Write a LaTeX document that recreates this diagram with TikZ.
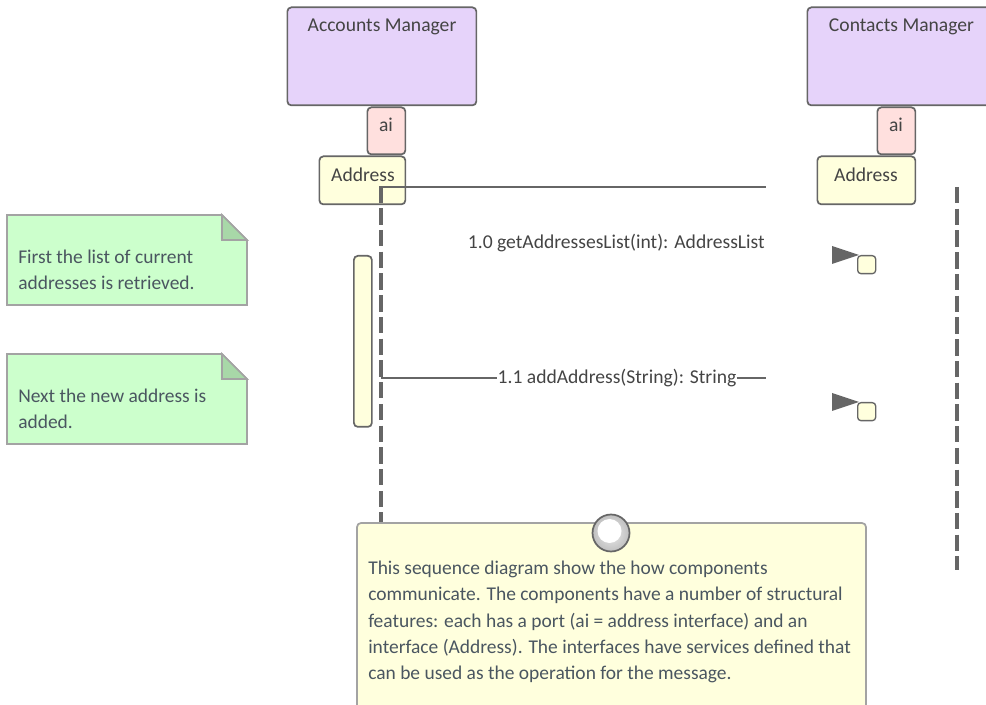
\documentclass[tikz,border=0pt]{standalone}
\usepackage{fontspec}
\setmainfont{Carlito}
\usetikzlibrary{calc,shadings}
\definecolor{edge}{HTML}{666666}
\definecolor{txt}{HTML}{444444}
\definecolor{notetxt}{HTML}{4A5660}
\definecolor{notedge}{HTML}{A3A3A3}
\definecolor{compfill}{HTML}{E6D3FA}
\definecolor{portfill}{HTML}{FFE0DE}
\definecolor{ifacefill}{HTML}{FFFFDD}
\definecolor{greenfill}{HTML}{CCFFCC}
\definecolor{folddark}{HTML}{A8D8A8}
\tikzset{
 x=0.75pt,y=-0.75pt,
 boxbase/.style={draw=edge,line width=1.3pt,rounded corners=3pt,inner sep=0,anchor=north west},
 comp/.style={boxbase,fill=compfill,minimum width=141.75pt,minimum height=73.5pt},
 port/.style={boxbase,fill=portfill,minimum width=28.5pt,minimum height=35.25pt},
 iface/.style={boxbase,fill=ifacefill},
 lifeline/.style={draw=edge,line width=3pt,dash pattern=on 12.3pt off 4pt},
 msg/.style={draw=edge,line width=0.9pt},
 lbl/.style={text=txt,font=\fontsize{14.7pt}{17pt}\selectfont,inner sep=0},
 notetext/.style={text=notetxt,font=\fontsize{14.6pt}{19.6pt}\selectfont,inner sep=0,anchor=north west,align=left},
 notefill/.style={fill=greenfill,draw=notedge,line width=1.3pt},
 foldfill/.style={fill=folddark,draw=notedge,line width=1.3pt},
 head/.style={fill=edge,draw=none},
 endbox/.style={boxbase,fill=ifacefill,line width=1pt,rounded corners=2.5pt,minimum width=13.5pt,minimum height=13.5pt},
}
\begin{document}
\begin{tikzpicture}
\useasboundingbox (0,0) rectangle (986,705);
\clip (0,0) rectangle (986,705);
% lifelines
\coordinate (llAtop) at (381.3,186.5);
\coordinate (llAbot) at (381.3,530);
\coordinate (llBtop) at (957,187);
\coordinate (llBbot) at (957,570);
% components
\node[comp] (acc) at (286.5,6.5) {};
\node[lbl] at (382,27) {Accounts Manager};
\node[comp] (con) at (806.5,6.5) {};
\node[lbl] at (901.5,27) {Contacts Manager};
\node[port] (aiA) at (366.5,106.5) {};
\node[lbl] at (386,125) {ai};
\node[port] (aiB) at (876.5,106.5) {};
\node[lbl] at (896,125) {ai};
\node[iface,minimum width=64.5pt,minimum height=36pt] (addA) at (318.5,155.5) {};
\node[lbl] at (363,174.5) {Address};
\node[iface,minimum width=73.5pt,minimum height=36pt] (addB) at (816.5,155.5) {};
\node[lbl] at (866,174.5) {Address};
\draw[lifeline] (llAtop) -- (llAbot);
\draw[lifeline] (llBtop) -- (llBbot);
% activation
\node[iface,minimum width=13.5pt,minimum height=128.25pt] (act) at (353,255) {};
% messages
\coordinate (m1a) at (381,187);
\coordinate (m1b) at (766,187);
\draw[msg] (m1a) -- (m1b);
\node[lbl,anchor=east] (l1) at (765,243) {1.0 getAddressesList(int): AddressList};
\coordinate (m2a) at (381,378);
\coordinate (m2b) at (766,378);
\node[lbl] (l2) at (617,378) {1.1 addAddress(String): String};
\draw[msg] (m2a) -- (l2.west);
\draw[msg] (l2.east) -- (m2b);
% arrowheads
\coordinate (h1) at (832,246);
\draw[head] (h1) -- ++(27,9) -- ++(-27,9) -- cycle;
\node[endbox] (e1) at (857,255) {};
\coordinate (h2) at (832,393);
\draw[head] (h2) -- ++(27,9) -- ++(-27,9) -- cycle;
\node[endbox] (e2) at (857,402) {};
% notes
\draw[notefill] (7,215) -- (222,215) -- (247,240) -- (247,305) -- (7,305) -- cycle;
\draw[foldfill] (222,215) -- (247,240) -- (222,240) -- cycle;
\node[notetext] at (18,249.5) {First the list of current\\addresses is retrieved.};
\draw[notefill] (7,354) -- (222,354) -- (247,379) -- (247,444) -- (7,444) -- cycle;
\draw[foldfill] (222,354) -- (247,379) -- (222,379) -- cycle;
\node[notetext] at (18,388.5) {Next the new address is\\added.};
% big note
\draw[fill=ifacefill,draw=notedge,line width=1.3pt,rounded corners=3pt] (357,523) rectangle (866,730);
\node[notetext] at (368,561) {This sequence diagram show the how components\\communicate. The components have a number of structural\\features: each has a port (ai = address interface) and an\\interface (Address). The interfaces have services defined that\\can be used as the operation for the message.};
\shade[inner color=white!85!gray,outer color=white!50!gray] (611,533) circle (18.5);
\fill[white] (609.5,531) circle (12);
\draw[edge,line width=1.3pt] (611,533) circle (18.5);
\end{tikzpicture}
\end{document}
